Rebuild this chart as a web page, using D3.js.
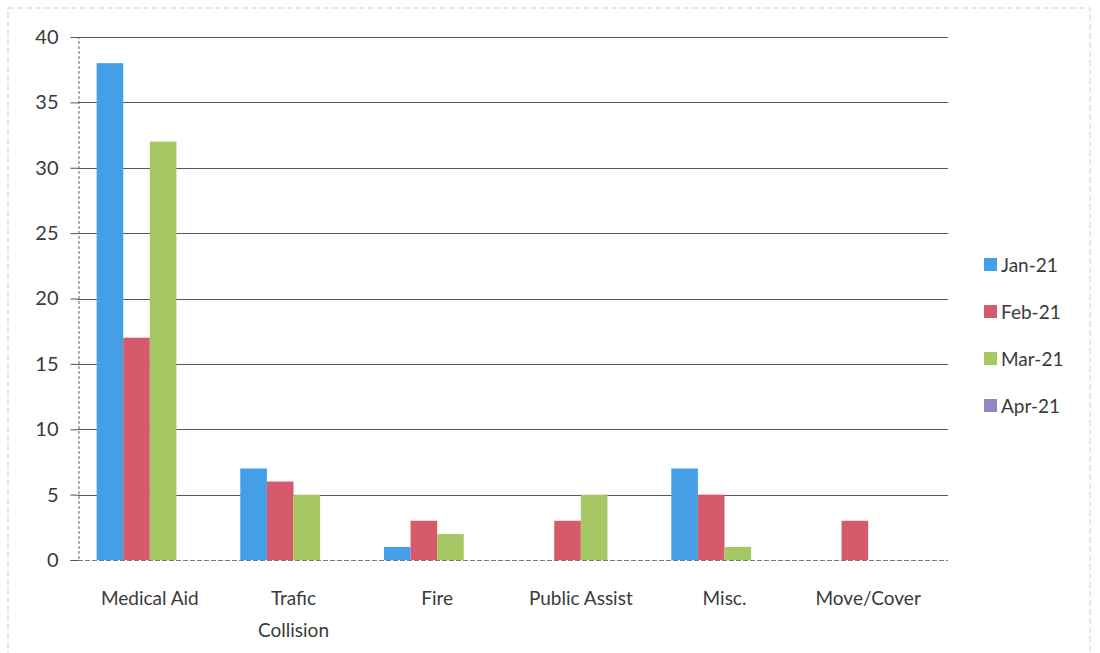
<!DOCTYPE html>
<html>
<head>
<meta charset="utf-8">
<script src="https://cdn.jsdelivr.net/npm/d3@7"></script>
<style>
  body { margin: 0; background: #fff; }
  text { font-family: Lato, "Open Sans", sans-serif; fill: #3a3a3a; }
</style>
</head>
<body>
<div class="svg-container"></div>
<script>
// chart data
var categories = ["Medical Aid", "Trafic Collision", "Fire", "Public Assist", "Misc.", "Move/Cover"];
var categoryLines = [["Medical Aid"], ["Trafic", "Collision"], ["Fire"], ["Public Assist"], ["Misc."], ["Move/Cover"]];
var seriesNames = ["Jan-21", "Feb-21", "Mar-21", "Apr-21"];
var jan21 = [38, 7, 1, 0, 7, 0];
var feb21 = [17, 6, 3, 3, 5, 3];
var mar21 = [32, 5, 2, 5, 1, 0];
var apr21 = [0, 0, 0, 0, 0, 0];
var yTicks = [0, 5, 10, 15, 20, 25, 30, 35, 40];

var seriesValues = [jan21, feb21, mar21, apr21];
var colors = ["#449fe6", "#d55a6b", "#a5c864", "#8f88c6"];

var svgWidth = 1100, svgHeight = 653;
var plot = {left: 78, right: 940, gridRight: 948, top: 37, bottom: 560};

var svg = d3.select(".svg-container").append("svg")
  .attr("width", svgWidth)
  .attr("height", svgHeight);

// faint scan border
svg.append("rect")
  .attr("x", 8).attr("y", 8)
  .attr("width", 1082).attr("height", 660)
  .attr("fill", "none")
  .attr("stroke", "#cfcfcf")
  .attr("stroke-width", 1)
  .attr("stroke-dasharray", "6,3");

var x0 = d3.scaleBand().domain(categories).range([plot.left, plot.right]);
var innerPad = 0.7 * x0.bandwidth() / 5.4;
var x1 = d3.scaleBand().domain(seriesNames)
  .range([innerPad, x0.bandwidth() - innerPad]);
var y = d3.scaleLinear().domain([0, 40]).range([plot.bottom, plot.top]);

// gridlines
svg.append("g").attr("id", "grid").selectAll("line").data(yTicks.filter(function(d){ return d > 0; }))
  .enter().append("line")
    .attr("x1", plot.left).attr("x2", plot.gridRight)
    .attr("y1", function(d){ return Math.round(y(d)) + 0.5; })
    .attr("y2", function(d){ return Math.round(y(d)) + 0.5; })
    .attr("stroke", "#3a3a3a")
    .attr("stroke-width", 1.1)
    .attr("stroke-opacity", 0.85);

// bars
var groups = svg.append("g").attr("id", "bars").selectAll("g").data(categories)
  .enter().append("g")
    .attr("transform", function(d){ return "translate(" + x0(d) + ",0)"; });

groups.selectAll("rect").data(function(d, i) {
    return seriesNames.map(function(s, j){ return {series: s, value: seriesValues[j][i], color: colors[j]}; });
  })
  .enter().append("rect")
    .attr("x", function(d){ return x1(d.series); })
    .attr("y", function(d){ return y(d.value); })
    .attr("width", x1.bandwidth())
    .attr("height", function(d){ return y(0) - y(d.value); })
    .attr("fill", function(d){ return d.color; });

// y axis
var yAxis = d3.axisLeft(y).tickValues(yTicks).tickSize(8).tickPadding(12);
var yg = svg.append("g")
  .attr("transform", "translate(" + (plot.left + 0.5) + ",0)")
  .call(yAxis);
yg.select(".domain").attr("stroke", "#666").attr("stroke-dasharray", "3,2");
yg.selectAll(".tick line").attr("stroke", "#555");
yg.selectAll(".tick text")
  .style("font-size", "20px")
  .attr("fill", "#3a3a3a");

// x axis baseline
svg.append("line")
  .attr("x1", plot.left).attr("x2", plot.gridRight)
  .attr("y1", y(0) + 0.5).attr("y2", y(0) + 0.5)
  .attr("stroke", "#777")
  .attr("stroke-dasharray", "5,2");

// category labels
var labels = svg.append("g").attr("id", "x_labels").selectAll("text").data(categories)
  .enter().append("text")
    .attr("x", function(d){ return x0(d) + x0.bandwidth() / 2; })
    .attr("y", 605)
    .attr("text-anchor", "middle")
    .style("font-size", "19px");
labels.each(function(d, i) {
  var t = d3.select(this);
  categoryLines[i].forEach(function(line, k) {
    t.append("tspan")
      .attr("x", x0(d) + x0.bandwidth() / 2)
      .attr("dy", k === 0 ? 0 : 32)
      .text(line);
  });
});

// legend
var legend = svg.append("g").attr("id", "legend").selectAll("g").data(seriesNames)
  .enter().append("g")
    .attr("transform", function(d, i){ return "translate(984," + (265 + i * 47) + ")"; });
legend.append("rect")
  .attr("x", 0).attr("y", -7)
  .attr("width", 13).attr("height", 13)
  .attr("fill", function(d, i){ return colors[i]; });
legend.append("text")
  .attr("x", 17).attr("y", 7)
  .style("font-size", "19px")
  .text(function(d){ return d; });
</script>
</body>
</html>
